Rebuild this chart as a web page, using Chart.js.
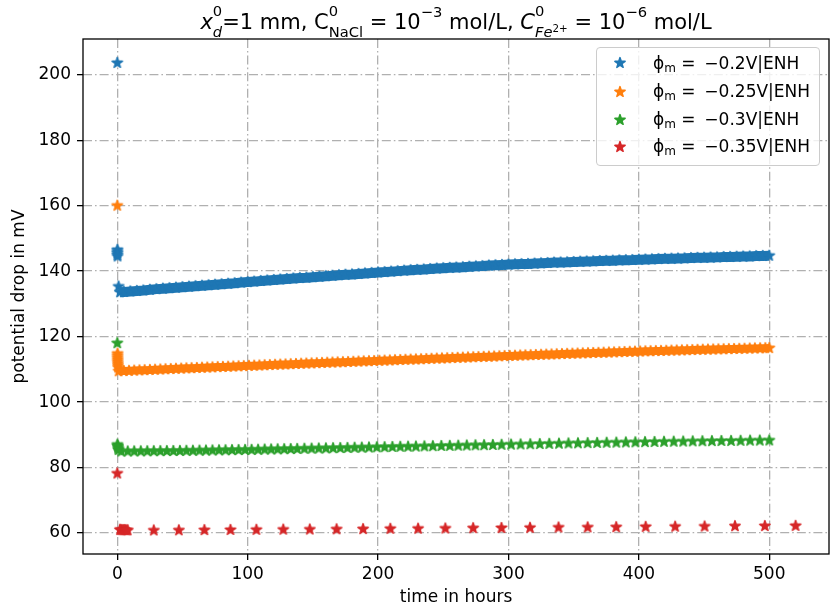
<!DOCTYPE html>
<html>
<head>
<meta charset="utf-8">
<script src="https://cdn.jsdelivr.net/npm/chart.js@4"></script>
<style>
  body { margin: 0; background: #fff; }
  #wrap { position: relative; width: 833px; height: 612px; }
  #title {
    position: absolute; left: 83px; width: 746px; top: 1px;
    text-align: center; font-family: "DejaVu Sans"; font-size: 21px;
    line-height: 40px; height: 40px; white-space: nowrap; color: #000;
  }
  .ss { display: inline-block; font-size: 14.7px; line-height: 20.5px; vertical-align: -7.3px; text-align: left; }
  .ss > span { display: block; }
  .up { font-size: 14.7px; vertical-align: 12.5px; line-height: 0; }
  .tiny { font-size: 10.3px; vertical-align: 5px; line-height: 0; }
  #legend {
    position: absolute; left: 596px; top: 47px; width: 224px; height: 119px;
    box-sizing: border-box; border: 1px solid #cccccc; border-radius: 4px;
    background: rgba(255,255,255,0.8); font-family: "DejaVu Sans"; font-size: 17px;
  }
  #legend canvas { position: absolute; }
  #legend .lbl { position: absolute; left: 56px; line-height: 30px; white-space: nowrap; }
  #legend sub { font-size: 12px; vertical-align: -3px; line-height: 0; }
</style>
</head>
<body>
<div id="wrap">
  <canvas id="grafica" width="833" height="612"></canvas>
  <div id="title"><i>x</i><span class="ss"><span>0</span><span><i>d</i></span></span>=1 mm, C<span class="ss"><span>0</span><span>NaCl</span></span> = 10<span class="up">−3</span> mol/L, <i>C</i><span class="ss"><span>0</span><span><i>Fe</i><span class="tiny">2+</span></span></span> = 10<span class="up">−6</span> mol/L</div>
  <div id="legend"></div>
</div>
<script>
// ---- datos ----
const etiquetas = ["−0.2", "−0.25", "−0.3", "−0.35"];
const colores = ["#1f77b4", "#ff7f0e", "#2ca02c", "#d62728"];

// phi = -0.2 V  (los 7 primeros puntos son el transitorio en t≈0)
const tAzul = [0, 0.1, 0.1, 0.1, 0.1, 0.2, 1.0,
  2, 5, 10, 15, 20, 25, 30, 35, 40, 45, 50, 55, 60, 65, 70, 75, 80, 85, 90, 95,
  100, 105, 110, 115, 120, 125, 130, 135, 140, 145, 150, 155, 160, 165, 170, 175, 180, 185, 190, 195,
  200, 205, 210, 215, 220, 225, 230, 235, 240, 245, 250, 255, 260, 265, 270, 275, 280, 285, 290, 295,
  300, 305, 310, 315, 320, 325, 330, 335, 340, 345, 350, 355, 360, 365, 370, 375, 380, 385, 390, 395,
  400, 405, 410, 415, 420, 425, 430, 435, 440, 445, 450, 455, 460, 465, 470, 475, 480, 485, 490, 495, 500];
const vAzul = [203.6, 146.5, 146.0, 145.5, 145.0, 144.5, 135.3,
  133.55, 133.65, 133.8, 133.95, 134.1, 134.3, 134.5, 134.65, 134.8, 134.95, 135.1, 135.25, 135.4, 135.55, 135.7, 135.85, 136.0, 136.15, 136.3, 136.5,
  136.65, 136.8, 137.0, 137.15, 137.3, 137.45, 137.6, 137.75, 137.9, 138.0, 138.15, 138.3, 138.45, 138.6, 138.75, 138.9, 139.0, 139.15, 139.3, 139.45,
  139.6, 139.7, 139.85, 140.0, 140.15, 140.3, 140.4, 140.5, 140.65, 140.8, 140.9, 141.0, 141.1, 141.2, 141.35, 141.45, 141.55, 141.7, 141.8, 141.9,
  142.0, 142.1, 142.15, 142.2, 142.3, 142.4, 142.5, 142.6, 142.65, 142.7, 142.8, 142.9, 142.95, 143.0, 143.1, 143.15, 143.2, 143.3, 143.35, 143.4,
  143.5, 143.55, 143.6, 143.7, 143.75, 143.8, 143.85, 143.9, 144.0, 144.05, 144.1, 144.15, 144.2, 144.3, 144.35, 144.4, 144.45, 144.5, 144.6, 144.65, 144.7];

// phi = -0.25 V  (9 puntos de transitorio)
const tNaranja = [0, 0.2, 0.2, 0.2, 0.3, 0.3, 0.4, 0.5, 0.6,
  1, 5, 9, 13, 17, 21, 25, 29, 33, 37, 41, 45, 49, 53, 57, 61, 65, 69, 73, 77, 81, 85, 89, 93, 97,
  101, 105, 109, 113, 117, 121, 125, 129, 133, 137, 141, 145, 149, 153, 157, 161, 165, 169, 173, 177, 181, 185, 189, 193, 197,
  201, 205, 209, 213, 217, 221, 225, 229, 233, 237, 241, 245, 249, 253, 257, 261, 265, 269, 273, 277, 281, 285, 289, 293, 297,
  301, 305, 309, 313, 317, 321, 325, 329, 333, 337, 341, 345, 349, 353, 357, 361, 365, 369, 373, 377, 381, 385, 389, 393, 397,
  401, 405, 409, 413, 417, 421, 425, 429, 433, 437, 441, 445, 449, 453, 457, 461, 465, 469, 473, 477, 481, 485, 489, 493, 497, 500];
const vNaranja = [160.0, 114.8, 114.2, 113.6, 113.0, 112.4, 111.8, 111.2, 110.6,
  109.42, 109.49, 109.55, 109.62, 109.69, 109.76, 109.83, 109.89, 109.96, 110.03, 110.10, 110.17, 110.23, 110.30, 110.36, 110.43, 110.49, 110.55, 110.62, 110.68, 110.75, 110.81, 110.87, 110.94, 111.00,
  111.07, 111.13, 111.19, 111.26, 111.32, 111.39, 111.45, 111.51, 111.58, 111.64, 111.71, 111.77, 111.83, 111.90, 111.96, 112.02, 112.08, 112.14, 112.20, 112.26, 112.32, 112.38, 112.44, 112.50, 112.56,
  112.62, 112.68, 112.74, 112.80, 112.86, 112.92, 112.98, 113.04, 113.10, 113.16, 113.22, 113.28, 113.34, 113.40, 113.46, 113.52, 113.58, 113.64, 113.70, 113.76, 113.82, 113.88, 113.94, 114.00, 114.06,
  114.11, 114.17, 114.23, 114.28, 114.34, 114.39, 114.45, 114.51, 114.56, 114.62, 114.67, 114.73, 114.79, 114.84, 114.89, 114.94, 115.00, 115.05, 115.10, 115.15, 115.20, 115.26, 115.31, 115.36, 115.41,
  115.46, 115.51, 115.55, 115.59, 115.64, 115.68, 115.73, 115.77, 115.81, 115.86, 115.90, 115.95, 115.99, 116.03, 116.07, 116.11, 116.15, 116.19, 116.23, 116.27, 116.31, 116.35, 116.39, 116.43, 116.47, 116.50];

// phi = -0.3 V
const tVerde = [0, 0.1, 0.3, 0.5, 0.8, 1.0,
  3, 8, 13, 18, 23, 28, 33, 38, 43, 48, 53, 58, 63, 68, 73, 78, 83, 88, 93, 98,
  103, 108, 113, 118, 123, 128, 133, 138, 143.5, 149, 154.5, 160, 165.5, 171, 176.5, 182, 187.5, 193, 199,
  205, 211, 217, 223, 229, 235.5, 242, 248.5, 255, 261.5, 268, 274.7, 281.3, 288, 294.7,
  302, 309.3, 316.7, 324, 331.3, 338.7, 346, 353.3, 360.7, 368, 375.3, 382.7, 390, 397.3,
  404.7, 412, 419.3, 426.7, 434, 441.3, 448.7, 456, 463.3, 470.7, 478, 485.3, 492.7, 500];
const vVerde = [118.0, 87.0, 86.6, 86.2, 85.8, 85.4,
  84.91, 84.93, 84.95, 84.97, 84.99, 85.01, 85.03, 85.05, 85.07, 85.09, 85.12, 85.15, 85.18, 85.21, 85.24, 85.27, 85.30, 85.33, 85.36, 85.39,
  85.42, 85.46, 85.50, 85.54, 85.58, 85.62, 85.66, 85.70, 85.75, 85.79, 85.84, 85.88, 85.92, 85.97, 86.01, 86.06, 86.10, 86.14, 86.19,
  86.24, 86.29, 86.34, 86.38, 86.43, 86.48, 86.54, 86.59, 86.64, 86.69, 86.74, 86.80, 86.85, 86.90, 86.96,
  87.02, 87.07, 87.13, 87.19, 87.25, 87.31, 87.37, 87.42, 87.48, 87.53, 87.58, 87.63, 87.68, 87.73,
  87.78, 87.82, 87.87, 87.91, 87.95, 88.00, 88.04, 88.08, 88.12, 88.15, 88.19, 88.23, 88.26, 88.30];

// phi = -0.35 V
const tRojo = [0, 2, 3, 4, 5, 6, 7, 8,
  28.0, 47.2, 66.8, 86.8, 106.7, 127.3, 147.6, 168.2, 188.5, 209.4, 230.7, 251.6,
  272.9, 294.6, 316.5, 338.4, 360.7, 382.6, 405.2, 427.8, 450.4, 473.7, 496.6, 520.2];
const vRojo = [78.2, 61.0, 60.95, 60.9, 60.9, 60.9, 60.85, 60.85,
  60.8, 60.85, 60.9, 60.95, 61.0, 61.05, 61.1, 61.15, 61.2, 61.3, 61.35, 61.4,
  61.5, 61.55, 61.6, 61.7, 61.75, 61.8, 61.9, 61.95, 62.0, 62.1, 62.15, 62.2];

const ticksX = [0, 100, 200, 300, 400, 500];
const ticksY = [60, 80, 100, 120, 140, 160, 180, 200];

// ---- estrella rellena tipo matplotlib '*' ----
function estrella(color, r) {
  const size = 16;
  const c = document.createElement("canvas");
  c.width = c.height = size;
  const g = c.getContext("2d");
  g.translate(size / 2, size / 2);
  g.beginPath();
  for (let i = 0; i < 10; i++) {
    const rad = i % 2 === 0 ? r : r * 0.381966;
    const a = -Math.PI / 2 + i * Math.PI / 5;
    g.lineTo(rad * Math.cos(a), rad * Math.sin(a));
  }
  g.closePath();
  g.fillStyle = color;
  g.fill();
  g.lineWidth = 1.5;
  g.lineJoin = "round";
  g.strokeStyle = color;
  g.stroke();
  return c;
}

// banda continua (solo azul y naranja, sin el transitorio inicial)
const banda = [10, 8, 0, 0];
const inicio = [7, 9, 0, 0];

const series = [[tAzul, vAzul], [tNaranja, vNaranja], [tVerde, vVerde], [tRojo, vRojo]];
const datasets = series.map(([t, v], i) => ({
  label: "ϕm = " + etiquetas[i] + "V|ENH",
  data: t.map((x, j) => ({ x: x, y: v[j] })),
  pointStyle: estrella(colores[i], 5.4),
  pointRadius: 5,
  backgroundColor: colores[i],
  borderColor: colores[i],
  showLine: banda[i] > 0,
  borderWidth: banda[i],
  segment: {
    borderColor: ctx => ctx.p0DataIndex < inicio[i] ? "rgba(0,0,0,0)" : colores[i]
  },
  order: 4 - i
}));

// ---- leyenda HTML ----
const leyenda = document.getElementById("legend");
const centros = [16.3, 44.7, 73, 100.3];
const bases = [20.7, 48.7, 77, 104.3];
etiquetas.forEach((e, i) => {
  const c = estrella(colores[i], 5.4);
  c.style.left = (24 - 8 - 1) + "px";
  c.style.top = (centros[i] - 8 - 1) + "px";
  leyenda.appendChild(c);
  const s = document.createElement("span");
  s.className = "lbl";
  s.style.top = (bases[i] - 20.9) + "px";
  s.innerHTML = "ϕ<sub>m</sub> = &thinsp;" + e + "V|ENH";
  leyenda.appendChild(s);
});

const marco = {
  id: "marco",
  afterDatasetsDraw(chart) {
    const { ctx, chartArea: a } = chart;
    ctx.save();
    ctx.strokeStyle = "#000";
    ctx.lineWidth = 1.3;
    ctx.strokeRect(a.left, a.top, a.right - a.left, a.bottom - a.top);
    ctx.restore();
  }
};

const fuente = { family: "DejaVu Sans", size: 17 };
const ejeComun = {
  type: "linear",
  grid: {
    color: "#b0b0b0", lineWidth: 1.3,
    tickLength: 6, tickColor: "#000", tickWidth: 1.3, tickBorderDash: []
  },
  border: { display: false, dash: [9, 3, 1.6, 3] },
};

new Chart(document.getElementById("grafica"), {
  type: "scatter",
  data: { datasets },
  plugins: [marco],
  options: {
    responsive: false,
    animation: false,
    events: [],
    layout: { autoPadding: false, padding: { left: 0, right: 4, top: 39, bottom: 0 } },
    plugins: { legend: { display: false }, tooltip: { enabled: false } },
    scales: {
      x: {
        ...ejeComun,
        min: -26.3, max: 545.8,
        afterFit: s => { s.height = 58; },
        afterBuildTicks: s => { s.ticks = ticksX.map(v => ({ value: v })); },
        ticks: { color: "#000", font: fuente, padding: 4, maxRotation: 0, includeBounds: false },
        title: { display: true, text: "time in hours", color: "#000", font: fuente, padding: { top: 0, bottom: 4 } }
      },
      y: {
        ...ejeComun,
        min: 53.6, max: 210.9,
        afterFit: s => { s.width = 83; },
        afterBuildTicks: s => { s.ticks = ticksY.map(v => ({ value: v })); },
        ticks: { color: "#000", font: fuente, padding: 6, includeBounds: false },
        title: { display: true, text: "potential drop in mV", color: "#000", font: fuente, padding: { top: 9, bottom: 0 } }
      }
    }
  }
});
</script>
</body>
</html>
